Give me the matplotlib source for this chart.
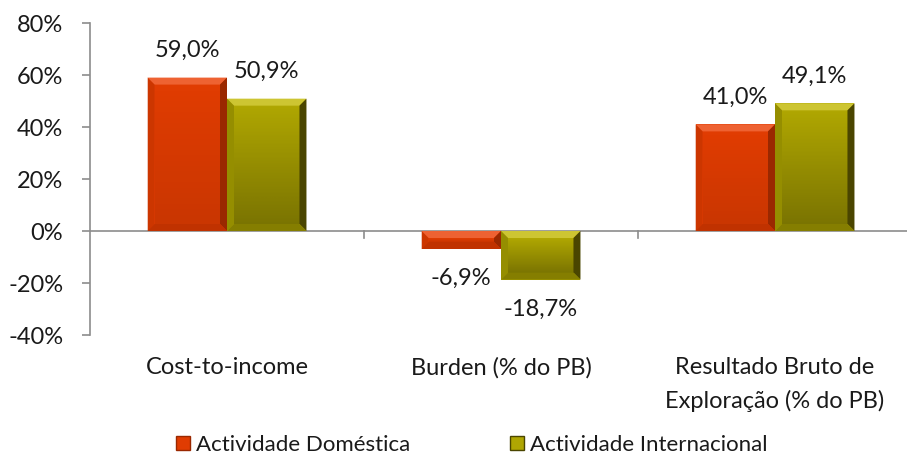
import matplotlib
matplotlib.use("Agg")
import matplotlib.pyplot as plt
from matplotlib.patches import Polygon, Rectangle
from matplotlib.lines import Line2D
import numpy as np

categories = ["Cost-to-income", "Burden (% do PB)", "Resultado Bruto de\nExploração (% do PB)"]
series_names = ["Actividade Doméstica", "Actividade Internacional"]
domestica = [59.0, -6.9, 41.0]
internacional = [50.9, -18.7, 49.1]
y_ticks = [-40, -20, 0, 20, 40, 60, 80]

face_colors = ["#E03C02", "#AFA602"]
light_colors = ["#EE6232", "#CDC532"]
dark_colors = ["#9A2800", "#4A4500"]
mid_dark = ["#C03200", "#857E00"]

plt.rcParams["font.family"] = ["Lato", "DejaVu Sans"]
FS = 17
TXT = "#1a1a1a"
GRAY = "#8c8c8c"

W, H = 907, 461
fig = plt.figure(figsize=(W / 100, H / 100), dpi=100)
ax_left, ax_right = 90 / W, 912 / W
ax_bottom, ax_top = 1 - 335 / H, 1 - 23 / H
ax = fig.add_axes([ax_left, ax_bottom, ax_right - ax_left, ax_top - ax_bottom])

n = len(categories)
ax.set_xlim(0, n)
ax.set_ylim(-40, 80)

bar_w = 0.29
centers = np.arange(n) + 0.5
px_x = n / (ax_right - ax_left) / W   # data units per pixel (x)
px_y = 120 / (ax_top - ax_bottom) / H  # data units per pixel (y)
bev = 7


def bevel_bar(xc, val, k):
    x0, x1 = xc - bar_w / 2, xc + bar_w / 2
    y0, y1 = min(0, val), max(0, val)
    bx, by = bev * px_x, bev * px_y
    if (y1 - y0) < 2.5 * by:
        by = (y1 - y0) / 3
    ax.add_patch(Rectangle((x0, y0), x1 - x0, y1 - y0, facecolor=face_colors[k],
                           edgecolor="none", zorder=3))
    # top facet
    ax.add_patch(Polygon([(x0, y1), (x1, y1), (x1 - bx, y1 - by), (x0 + bx, y1 - by)],
                         closed=True, facecolor=light_colors[k], edgecolor="none", zorder=4))
    # left facet
    ax.add_patch(Polygon([(x0, y0), (x0, y1), (x0 + bx, y1 - by), (x0 + bx, y0 + by)],
                         closed=True, facecolor=mid_dark[k], edgecolor="none", zorder=4, alpha=0.6))
    # right facet
    ax.add_patch(Polygon([(x1, y0), (x1, y1), (x1 - bx, y1 - by), (x1 - bx, y0 + by)],
                         closed=True, facecolor=dark_colors[k], edgecolor="none", zorder=4))
    # bottom facet
    ax.add_patch(Polygon([(x0, y0), (x1, y0), (x1 - bx, y0 + by), (x0 + bx, y0 + by)],
                         closed=True, facecolor=mid_dark[k], edgecolor="none", zorder=4))
    # soft shading toward the bottom
    grad = np.linspace(0, 1, 64).reshape(-1, 1)
    ax.imshow(grad, extent=(x0 + bx, x1 - bx, y0 + by, y1 - by), origin="upper",
              cmap=matplotlib.colors.LinearSegmentedColormap.from_list(
                  "sh", [(0, 0, 0, 0), (0, 0, 0, 0.3 if k == 1 else 0.1)]),
              aspect="auto", zorder=3.5, interpolation="bilinear")


def fmt(v):
    return f"{v:.1f}".replace(".", ",") + "%"


for k, vals in enumerate([domestica, internacional]):
    for i, v in enumerate(vals):
        xc = centers[i] + (k - 0.5) * bar_w
        bevel_bar(xc, v, k)
        off = 19.5 if v >= 0 else -21.5
        ax.annotate(fmt(v), (xc, v), xytext=(0, off), textcoords="offset points",
                    ha="center", va="center", fontsize=FS, color=TXT, zorder=5)

ax.set_xlim(0, n)
ax.set_ylim(-40, 80)

# axes styling
for s in ["top", "right", "bottom"]:
    ax.spines[s].set_visible(False)
ax.spines["left"].set_color(GRAY)
ax.spines["left"].set_linewidth(1.2)
ax.axhline(0, color=GRAY, linewidth=1.2, zorder=2)
ax.set_yticks(y_ticks)
ax.set_yticklabels([f"{t}%" for t in y_ticks], fontsize=FS, color=TXT)
ax.tick_params(axis="y", length=5.8, width=1.2, color=GRAY, direction="out", pad=13.5)
ax.set_xticks([])
for b in range(1, n + 1):
    ax.plot([b, b], [0, -7 * px_y], color=GRAY, linewidth=1.2, zorder=2, clip_on=False)

# category labels, one text per line
for i, c in enumerate(categories):
    for j, line in enumerate(c.split("\n")):
        ypx = 368 + 33 * j
        ax.text(centers[i], -40 - (ypx - 335) * px_y, line, ha="center", va="center",
                fontsize=FS, color=TXT, clip_on=False)

handles = [Line2D([], [], marker="s", linestyle="none", markersize=10,
                  markerfacecolor=face_colors[k], markeredgecolor=dark_colors[k])
           for k in range(2)]
fig.legend(handles, series_names, loc="center", bbox_to_anchor=(471 / W, 1 - 445 / H),
           ncol=2, frameon=False, fontsize=16, handletextpad=0.2, columnspacing=4.4,
           handlelength=0.8, labelcolor=TXT)

fig.savefig("out.png", dpi=100)
